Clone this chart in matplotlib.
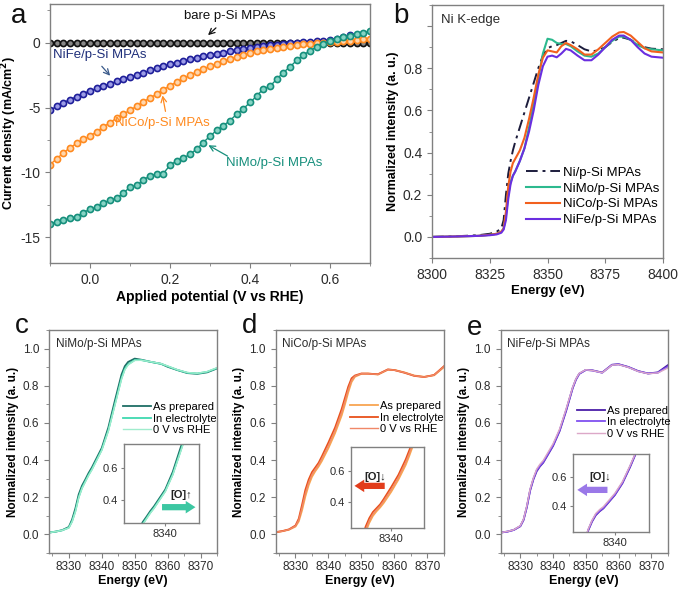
import numpy as np
import matplotlib
matplotlib.use('Agg')
import matplotlib.pyplot as plt
from matplotlib.ticker import MultipleLocator

plt.rcParams['font.family'] = ['Liberation Sans', 'DejaVu Sans']

#Panel a : LSV curves
potential = [-0.100, -0.083, -0.067, -0.050, -0.033, -0.017, 0.000, 0.017, 0.033, 0.050,
             0.067, 0.083, 0.100, 0.117, 0.133, 0.150, 0.167, 0.183, 0.200, 0.217,
             0.233, 0.250, 0.267, 0.283, 0.300, 0.317, 0.333, 0.350, 0.367, 0.383,
             0.400, 0.417, 0.433, 0.450, 0.467, 0.483, 0.500, 0.517, 0.533, 0.550,
             0.567, 0.583, 0.600, 0.617, 0.633, 0.650, 0.667, 0.683, 0.700]
j_bare = [0.0] * 49
j_nife = [-5.20, -4.90, -4.62, -4.38, -4.15, -3.92, -3.70, -3.52, -3.33, -3.15,
          -2.98, -2.80, -2.64, -2.47, -2.30, -2.13, -1.96, -1.80, -1.65, -1.52,
          -1.39, -1.27, -1.15, -1.05, -0.95, -0.85, -0.75, -0.65, -0.55, -0.46,
          -0.38, -0.31, -0.25, -0.19, -0.13, -0.08, -0.03, 0.01, 0.05, 0.09,
          0.13, 0.17, 0.22, 0.30, 0.42, 0.60]
j_nico = [-9.40, -8.95, -8.50, -8.10, -7.75, -7.45, -7.20, -6.85, -6.50, -6.15,
          -5.80, -5.50, -5.20, -4.88, -4.55, -4.25, -3.95, -3.62, -3.30, -3.02,
          -2.75, -2.50, -2.25, -2.02, -1.80, -1.60, -1.40, -1.22, -1.06, -0.91,
          -0.78, -0.66, -0.55, -0.45, -0.36, -0.29, -0.23, -0.17, -0.12, -0.07,
          -0.03, 0.01, 0.05, 0.09, 0.13, 0.18, 0.23, 0.28, 0.33]
j_nimo = [-14.00, -13.80, -13.70, -13.55, -13.45, -13.10, -12.85, -12.70, -12.35, -12.15,
          -12.00, -11.60, -11.15, -11.00, -10.60, -10.25, -10.15, -10.10, -9.45, -9.10,
          -8.90, -8.60, -8.20, -7.70, -7.20, -6.75, -6.40, -6.00, -5.50, -5.10,
          -4.60, -4.10, -3.55, -3.35, -2.80, -2.30, -1.85, -1.35, -0.95, -0.60,
          -0.30, -0.05, 0.15, 0.30, 0.45, 0.55, 0.65, 0.78, 0.90]

#Panel b : Ni K-edge XANES
energy_b = [8300, 8310, 8320, 8325, 8328, 8330, 8331, 8332, 8333, 8334, 8335, 8336, 8338,
            8340, 8342, 8344, 8346, 8348, 8350, 8352, 8354, 8356, 8358, 8360, 8363, 8366,
            8369, 8372, 8375, 8378, 8381, 8383, 8386, 8389, 8392, 8395, 8400]
xas_ni = [0.0, 0.003, 0.008, 0.015, 0.025, 0.04, 0.08, 0.2, 0.3, 0.36, 0.41, 0.45, 0.52,
          0.59, 0.66, 0.73, 0.8, 0.86, 0.895, 0.905, 0.91, 0.92, 0.93, 0.928, 0.91, 0.89,
          0.88, 0.885, 0.9, 0.925, 0.943, 0.945, 0.935, 0.915, 0.9, 0.893, 0.89]
xas_nimo = [0.0, 0.002, 0.005, 0.01, 0.015, 0.025, 0.04, 0.1, 0.2, 0.26, 0.29, 0.31, 0.36,
            0.42, 0.52, 0.63, 0.75, 0.87, 0.94, 0.935, 0.92, 0.915, 0.915, 0.905, 0.88, 0.86,
            0.855, 0.87, 0.9, 0.93, 0.95, 0.95, 0.935, 0.91, 0.895, 0.89, 0.885]
xas_nico = [0.0, 0.002, 0.005, 0.01, 0.015, 0.025, 0.04, 0.12, 0.24, 0.31, 0.35, 0.37, 0.41,
            0.47, 0.56, 0.66, 0.77, 0.85, 0.885, 0.88, 0.875, 0.905, 0.92, 0.91, 0.89, 0.865,
            0.865, 0.89, 0.92, 0.95, 0.97, 0.972, 0.955, 0.925, 0.895, 0.88, 0.875]
xas_nife = [0.0, 0.002, 0.005, 0.008, 0.012, 0.02, 0.035, 0.08, 0.18, 0.25, 0.29, 0.31, 0.36,
            0.42, 0.5, 0.6, 0.72, 0.81, 0.855, 0.86, 0.852, 0.87, 0.892, 0.885, 0.86, 0.838,
            0.838, 0.865, 0.9, 0.935, 0.955, 0.955, 0.935, 0.9, 0.87, 0.855, 0.85]

#Panels c, d, e : in situ XANES
energy_in = [8324, 8326, 8328, 8330, 8331, 8332, 8333, 8334, 8335, 8336, 8337, 8338, 8340,
             8342, 8344, 8345, 8346, 8347, 8348, 8350, 8352, 8355, 8358, 8360, 8363, 8366,
             8369, 8372, 8375]
nimo_prep = [0.010, 0.015, 0.023, 0.04, 0.08, 0.14, 0.215, 0.262, 0.295, 0.33, 0.36, 0.395, 0.465,
             0.575, 0.72, 0.79, 0.86, 0.905, 0.928, 0.946, 0.94, 0.928, 0.918, 0.902, 0.884, 0.868,
             0.864, 0.872, 0.893]
nimo_elec = [0.010, 0.015, 0.022, 0.036, 0.07, 0.125, 0.20, 0.25, 0.285, 0.32, 0.35, 0.385, 0.455,
             0.56, 0.70, 0.77, 0.84, 0.89, 0.915, 0.938, 0.938, 0.928, 0.918, 0.905, 0.885, 0.87,
             0.866, 0.875, 0.895]
nimo_0v = [0.010, 0.015, 0.022, 0.035, 0.068, 0.122, 0.197, 0.247, 0.282, 0.317, 0.347, 0.382, 0.452,
           0.556, 0.695, 0.765, 0.835, 0.885, 0.912, 0.936, 0.937, 0.929, 0.919, 0.906, 0.886, 0.871,
           0.867, 0.876, 0.897]
nico_prep = [0.012, 0.017, 0.025, 0.042, 0.07, 0.13, 0.205, 0.265, 0.31, 0.34, 0.365, 0.395, 0.465,
             0.545, 0.64, 0.70, 0.765, 0.82, 0.848, 0.864, 0.866, 0.86, 0.886, 0.885, 0.872, 0.855,
             0.848, 0.856, 0.9]
nico_elec = [0.012, 0.018, 0.027, 0.048, 0.085, 0.16, 0.24, 0.295, 0.335, 0.36, 0.385, 0.42, 0.495,
             0.575, 0.675, 0.735, 0.795, 0.84, 0.855, 0.866, 0.865, 0.862, 0.888, 0.884, 0.87, 0.853,
             0.847, 0.858, 0.905]
nico_0v = [0.012, 0.017, 0.026, 0.045, 0.078, 0.145, 0.222, 0.28, 0.322, 0.35, 0.375, 0.408, 0.48,
           0.56, 0.658, 0.718, 0.78, 0.83, 0.852, 0.865, 0.865, 0.861, 0.887, 0.884, 0.871, 0.854,
           0.847, 0.857, 0.903]
nife_prep = [0.01, 0.015, 0.024, 0.044, 0.078, 0.147, 0.236, 0.296, 0.34, 0.366, 0.386, 0.416, 0.476,
             0.556, 0.665, 0.726, 0.787, 0.833, 0.864, 0.885, 0.883, 0.871, 0.913, 0.916, 0.901, 0.879,
             0.866, 0.872, 0.91]
nife_elec = [0.01, 0.015, 0.024, 0.045, 0.08, 0.15, 0.24, 0.3, 0.345, 0.37, 0.39, 0.42, 0.48,
             0.56, 0.67, 0.73, 0.79, 0.835, 0.865, 0.885, 0.882, 0.87, 0.912, 0.915, 0.9, 0.878,
             0.866, 0.87, 0.902]
nife_0v = [0.01, 0.016, 0.025, 0.047, 0.083, 0.155, 0.245, 0.305, 0.352, 0.378, 0.398, 0.428, 0.488,
           0.567, 0.676, 0.735, 0.793, 0.838, 0.867, 0.886, 0.882, 0.87, 0.911, 0.914, 0.899, 0.877,
           0.865, 0.869, 0.895]

state_labels = ['As prepared', 'In electrolyte', '0 V vs RHE']

GREY = '#808080'
TXT = '#2b2b2b'


def style_axes(ax, fs):
    for s in ax.spines.values():
        s.set_color(GREY)
        s.set_linewidth(1.0)
    ax.tick_params(which='both', direction='out', color=GREY, labelcolor=TXT, labelsize=fs)
    ax.tick_params(which='major', length=3.5)
    ax.tick_params(which='minor', length=2)


fig = plt.figure(figsize=(6.81, 5.90), dpi=100)

#---------------- a ----------------
ax_a = fig.add_axes([0.0734, 0.5542, 0.4699, 0.4390])
series_a = [(j_bare, '#111111', '#888888'),
            (j_nife, '#1f1f9a', '#9c9ce6'),
            (j_nico, '#ff8a1f', '#ffd6ac'),
            (j_nimo, '#168f7c', '#86d4c4')]
for j, c, cf in series_a:
    ax_a.plot(potential[:len(j)], j, color=c, lw=1, marker='o', ms=4.4,
              mfc=cf, mec=c, mew=1.2)
ax_a.set_xlim(-0.1, 0.7)
ax_a.set_ylim(-17, 3)
ax_a.xaxis.set_minor_locator(MultipleLocator(0.1))
ax_a.yaxis.set_minor_locator(MultipleLocator(2.5))
ax_a.set_xticks([0.0, 0.2, 0.4, 0.6])
ax_a.set_xticklabels(['0.0', '0.2', '0.4', '0.6'])
ax_a.set_yticks([0, -5, -10, -15])
ax_a.set_yticklabels(['0', '-5', '-10', '-15'])
style_axes(ax_a, 10)
ax_a.set_xlabel('Applied potential (V vs RHE)', fontsize=10, fontweight='bold', labelpad=2)
ax_a.set_ylabel('Current density (mA/cm$^\\mathbf{2}$)', fontsize=9, fontweight='bold', labelpad=1)

ax_a.text(0.35, 2.05, 'bare p-Si MPAs', color='#111111', fontsize=9.5, ha='center', va='center')
ax_a.annotate('', xy=(0.29, 0.45), xytext=(0.32, 1.3),
              arrowprops=dict(arrowstyle='->', color='#111111', lw=0.9))
ax_a.text(0.025, -0.9, 'NiFe/p-Si MPAs', color='#1f2f7a', fontsize=9.5, ha='center', va='center')
ax_a.annotate('', xy=(0.055, -2.7), xytext=(0.025, -1.65),
              arrowprops=dict(arrowstyle='->', color='#3a5a8a', lw=0.9))
ax_a.text(0.18, -6.2, 'NiCo/p-Si MPAs', color='#ff8a1f', fontsize=9.5, ha='center', va='center')
ax_a.annotate('', xy=(0.18, -3.85), xytext=(0.19, -5.5),
              arrowprops=dict(arrowstyle='->', color='#ff8a1f', lw=0.9))
ax_a.text(0.46, -9.3, 'NiMo/p-Si MPAs', color='#168f7c', fontsize=9.5, ha='center', va='center')
ax_a.annotate('', xy=(0.29, -7.8), xytext=(0.35, -8.85),
              arrowprops=dict(arrowstyle='->', color='#168f7c', lw=0.9))

#---------------- b ----------------
ax_b = fig.add_axes([0.6344, 0.5627, 0.3392, 0.4288])
ax_b.plot(energy_b, xas_ni, color='#1c1c3c', lw=1.4, ls=(0, (6, 2.5, 1.5, 2.5)), label='Ni/p-Si MPAs')
ax_b.plot(energy_b, xas_nimo, color='#2cb98e', lw=1.5, label='NiMo/p-Si MPAs')
ax_b.plot(energy_b, xas_nico, color='#f2601e', lw=1.5, label='NiCo/p-Si MPAs')
ax_b.plot(energy_b, xas_nife, color='#6a2ee0', lw=1.5, label='NiFe/p-Si MPAs')
ax_b.set_xlim(8300, 8400)
ax_b.set_ylim(-0.1, 1.1)
ax_b.xaxis.set_major_locator(MultipleLocator(25))
ax_b.yaxis.set_minor_locator(MultipleLocator(0.1))
ax_b.set_yticks([0.0, 0.2, 0.4, 0.6, 0.8, 1.0])
ax_b.set_yticklabels(['0.0', '0.2', '0.4', '0.6', '0.8', ''])
style_axes(ax_b, 10)
ax_b.set_xlabel('Energy (eV)', fontsize=9.5, fontweight='bold', labelpad=2)
ax_b.set_ylabel('Normalized intensity (a. u.)', fontsize=9, fontweight='bold', labelpad=3)
ax_b.text(0.04, 0.965, 'Ni K-edge', transform=ax_b.transAxes, fontsize=9.5, color=TXT, va='top')
ax_b.legend(loc='upper left', bbox_to_anchor=(0.772, 0.718), bbox_transform=fig.transFigure,
            frameon=False, fontsize=9.5, handlelength=2.6, handletextpad=0.25,
            labelspacing=0.28, borderpad=0, borderaxespad=0)

#---------------- c, d, e ----------------
panels = [
    dict(pos=[0.0720, 0.0627, 0.2467, 0.3780], inset=[0.1821, 0.1136, 0.1101, 0.1339],
         iy=(0.256, 0.75), data=[nimo_prep, nimo_elec, nimo_0v],
         colors=['#1f6e66', '#3fd9b0', '#a0eccd'], widths=[1.3, 1.3, 1.0],
         title='NiMo/p-Si MPAs', leg=(0.1806, 0.318),
         arrow=((0.47, 0.2), (0.99, 0.2)), acol='#3cc7a2', lab=(0.76, 0.36), txt='[O]\u2191'),
    dict(pos=[0.4048, 0.0627, 0.2471, 0.3780], inset=[0.5154, 0.1051, 0.1072, 0.1373],
         iy=(0.232, 0.755), data=[nico_prep, nico_elec, nico_0v],
         colors=['#f8a552', '#e8501a', '#f08868'], widths=[1.3, 1.3, 1.0],
         title='NiCo/p-Si MPAs', leg=(0.514, 0.320),
         arrow=((0.5, 0.52), (0.01, 0.52)), acol='#e23d1c', lab=(0.33, 0.63), txt='[O]\u2193'),
    dict(pos=[0.7352, 0.0627, 0.2452, 0.3780], inset=[0.8414, 0.0983, 0.1116, 0.1322],
         iy=(0.226, 0.755), data=[nife_prep, nife_elec, nife_0v],
         colors=['#4b1fa8', '#8050f0', '#dca8c8'], widths=[1.3, 1.3, 1.0],
         title='NiFe/p-Si MPAs', leg=(0.847, 0.312),
         arrow=((0.49, 0.54), (0.02, 0.54)), acol='#9a78e8', lab=(0.36, 0.70), txt='[O]\u2193'),
]

for p in panels:
    ax = fig.add_axes(p['pos'])
    for y, c, w, lab in zip(p['data'], p['colors'], p['widths'], state_labels):
        ax.plot(energy_in, y, color=c, lw=w, label=lab)
    ax.set_xlim(8324, 8375)
    ax.set_ylim(-0.1, 1.1)
    ax.xaxis.set_major_locator(MultipleLocator(10))
    ax.xaxis.set_minor_locator(MultipleLocator(5))
    ax.yaxis.set_minor_locator(MultipleLocator(0.1))
    ax.set_yticks([0.0, 0.2, 0.4, 0.6, 0.8, 1.0])
    ax.set_yticklabels(['0.0', '0.2', '0.4', '0.6', '0.8', '1.0'])
    style_axes(ax, 8.5)
    ax.tick_params(axis='x', pad=2.5)
    ax.set_xlabel('Energy (eV)', fontsize=9, fontweight='bold', labelpad=1)
    ax.set_ylabel('Normalized intensity (a. u.)', fontsize=8.5, fontweight='bold', labelpad=3)
    ax.text(0.04, 0.965, p['title'], transform=ax.transAxes, fontsize=8.5, color=TXT, va='top')
    ax.legend(loc='upper left', bbox_to_anchor=p['leg'], bbox_transform=fig.transFigure,
              frameon=False, fontsize=8, handlelength=2.5, handletextpad=0.2,
              labelspacing=0.12, borderpad=0, borderaxespad=0)

    ins = fig.add_axes(p['inset'])
    for y, c, w in zip(p['data'], p['colors'], p['widths']):
        ins.plot(energy_in, y, color=c, lw=w)
    ins.set_xlim(8329, 8349)
    ins.set_ylim(*p['iy'])
    ins.set_xticks([8340])
    ins.set_yticks([0.4, 0.6])
    ins.set_yticklabels(['0.4', '0.6'])
    style_axes(ins, 8)
    ins.tick_params(which='major', length=2.5, pad=2)
    (x0, y0), (x1, y1) = p['arrow']
    ins.annotate('', xy=(x1, y1), xytext=(x0, y0), xycoords='axes fraction',
                 textcoords='axes fraction', annotation_clip=False,
                 arrowprops=dict(arrowstyle='simple,head_width=0.9,head_length=0.7,tail_width=0.45',
                                 color=p['acol'], lw=0))
    ins.text(p['lab'][0], p['lab'][1], p['txt'], transform=ins.transAxes, fontsize=8,
             fontweight='bold', color='#222222', ha='center', va='center')

#Panel letters
for letter, x, y in [('a', 19, 23), ('b', 401, 23), ('c', 22, 333), ('d', 250, 333), ('e', 475, 335)]:
    fig.text(x / 681, 1 - y / 590, letter, fontsize=20, ha='center', va='baseline', color='#111111')

fig.savefig('out.png', dpi=100)
